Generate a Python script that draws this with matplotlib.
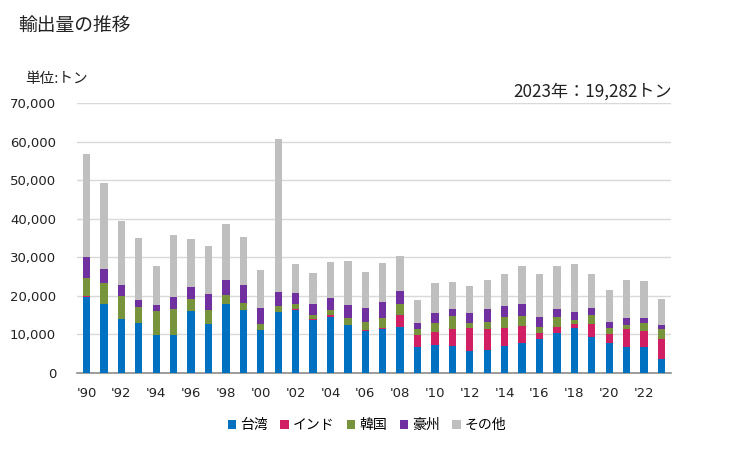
import matplotlib
matplotlib.use("Agg")
import matplotlib.pyplot as plt
import numpy as np
from matplotlib.ticker import FuncFormatter, MultipleLocator
from matplotlib.patches import Patch

years = list(range(1990, 2024))
taiwan = [19700, 18000, 14100, 13050, 9940, 9940, 16160, 12790, 17975, 16420,
          11235, 15900, 16420, 13830, 14600, 12530, 10975, 11320, 12010, 6830,
          7350, 7090, 5790, 6050, 7090, 7780, 8730, 10460, 11750, 9420,
          7860, 6830, 6650, 3720]
india = [350, 0, 0, 0, 0, 0, 0, 0, 0, 0,
         0, 0, 260, 260, 520, 0, 260, 430, 3110, 3110,
         3370, 4410, 5960, 5445, 4670, 4490, 1730, 1555, 1040, 3370,
         2330, 4670, 4320, 5180]
korea = [4670, 5450, 5960, 4150, 6220, 6740, 3110, 3630, 2330, 1815,
         1555, 1556, 1300, 1040, 1300, 1815, 2070, 2590, 2850, 1555,
         2330, 3370, 1300, 1815, 2850, 2590, 1555, 2590, 1040, 2330,
         1555, 1040, 2070, 2590]
australia = [5440, 3630, 2850, 1810, 1560, 3110, 3110, 4150, 3890, 4670,
             4150, 3630, 2850, 2850, 3110, 3370, 3630, 4150, 3370, 1555,
             2590, 1815, 2590, 3370, 2850, 3110, 2590, 2070, 2070, 1815,
             1555, 1815, 1300, 1040]
others = [26700, 22300, 16600, 16070, 10110, 16070, 12440, 12440, 14520, 12440,
          9850, 39670, 7520, 8040, 9330, 11410, 9330, 10110, 9075, 5960,
          7780, 7000, 7000, 7520, 8300, 9850, 11150, 11150, 12440, 8815,
          8300, 9850, 9590, 6752]

series_names = ["台湾", "インド", "韓国", "豪州", "その他"]
series_vals = [taiwan, india, korea, australia, others]
colors = ["#0070C0", "#D01F63", "#77933C", "#7030A0", "#BFBFBF"]

title = "輸出量の推移"
unit_label = "単位:トン"
note = "2023年：19,282トン"

JP = ["Noto Sans CJK JP", "DejaVu Sans"]

fig = plt.figure(figsize=(7.29, 4.5), dpi=100)
ax = fig.add_axes([77/729, 1 - 373/450, (671-77)/729, (373-103)/450])

x = np.arange(len(years))
bottom = np.zeros(len(years))
for name, vals, c in zip(series_names, series_vals, colors):
    v = np.array(vals, dtype=float)
    ax.bar(x, v, bottom=bottom, width=0.42, color=c, label=name, zorder=3)
    bottom += v

ax.set_xlim(-0.55, len(years) - 0.45)
ax.set_ylim(0, 70000)
ax.yaxis.set_major_locator(MultipleLocator(10000))
ax.yaxis.set_major_formatter(FuncFormatter(lambda v, p: f"{int(v):,}"))
ax.grid(axis="y", color="#D9D9D9", linewidth=1, zorder=0)
for s in ["top", "right", "left"]:
    ax.spines[s].set_visible(False)
ax.spines["bottom"].set_color("#8C8C8C")
ax.spines["bottom"].set_linewidth(1.2)
ax.tick_params(axis="y", length=0, pad=15, labelsize=9.5, labelcolor="#222222")
ax.tick_params(axis="x", length=0, pad=10, labelsize=9.5, labelcolor="#222222")
ax.set_xticks(x[::2])
ax.set_xticklabels([f"'{str(y)[2:]}" for y in years[::2]], family="DejaVu Sans")

fig.text(18/729, 1 - 25/450, title, family=JP, fontsize=13.5, va="center", ha="left", color="#222222")
fig.text(25/729, 1 - 79/450, unit_label, family=JP, fontsize=10.5, va="center", ha="left", color="#222222")
fig.text(672/729, 1 - 92/450, note, family=JP, fontsize=12.3, va="center", ha="right", color="#222222")

handles = [Patch(facecolor=c, edgecolor="none") for c in colors]
fig.legend(handles, series_names, loc="center", bbox_to_anchor=(367/729, 1 - 425/450),
           ncol=5, frameon=False, prop={"family": JP, "size": 10},
           handlelength=0.6, handleheight=0.6, handletextpad=0.3, columnspacing=0.9)

fig.savefig("out.png", dpi=100)
